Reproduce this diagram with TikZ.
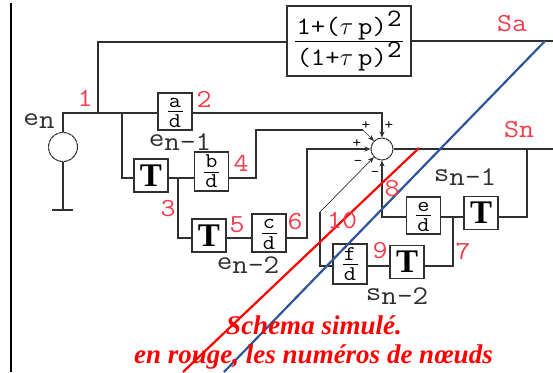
\documentclass[tikz,border=0pt]{standalone}
\usepackage{fontspec}
\usetikzlibrary{arrows.meta}
\setmonofont{Latin Modern Mono}[FakeStretch=1.12]
\newfontfamily\titlefont{Liberation Serif}
\newfontfamily\tbfont{Liberation Serif}
\newcommand\fsz[1]{\fontsize{#1}{#1}\selectfont}
\newcommand\fr[3]{\hbox to 15pt{\hfil\ttfamily\fsz{21}\vrule width 0pt height #2 depth #3#1\hfil}}
\newcommand\frbox[2]{\raisebox{1.5pt}{$\displaystyle\frac{\fr{#1}{12pt}{2pt}}{\fr{#2}{14.5pt}{0pt}}$}}
\newcommand\frtop[1]{\hbox to 108pt{\hfil\ttfamily\fsz{25}\vrule width 0pt height 20pt depth 2pt #1\hfil}}
\newcommand\mn{\textendash}
\definecolor{lab}{HTML}{F23C4C}
\definecolor{bl}{HTML}{2F5597}
\definecolor{ln}{HTML}{303030}
\begin{document}
\begin{tikzpicture}[x=1pt,y=-1pt,
  wire/.style={draw=ln,line width=1.05pt},
  arr/.style={wire,-{Stealth[length=6pt,width=5pt]}},
  thinarr/.style={draw=ln,line width=0.7pt,-{Stealth[length=6pt,width=5pt]}},
  blk/.style={draw=ln,line width=1.05pt,fill=white,inner sep=0pt,minimum width=34pt},
  delay/.style={blk,font=\tbfont\bfseries\fsz{33},minimum height=33pt},
  sumc/.style={circle,draw=ln,line width=1.05pt,dash pattern=on 4pt off 0.6pt,fill=white,inner sep=0pt,minimum size=22pt},
  tag/.style={inner sep=0pt,text=lab,font=\ttfamily\fsz{26}},
  var/.style={inner sep=0pt,text=ln,font=\ttfamily\fsz{27}},
  sign/.style={inner sep=0pt,text=black,font=\ttfamily\bfseries\fsz{15}},
  captext/.style={inner sep=0pt,text=red,font=\titlefont\bfseries\itshape\fsz{27}},
  slash/.style={line width=2.2pt}]
\useasboundingbox (0,0) rectangle (553,372);
\coordinate (bartop) at (11,3); \coordinate (barbot) at (11,372);
\draw[black,line width=2pt] (bartop) -- (barbot);

% blocks
\node[blk,minimum height=37pt] (A) at (175,111.5) {\frbox{a}{d}};
\node[blk,minimum height=39pt] (B) at (211.5,171.5) {\frbox{b}{d}};
\node[blk,minimum height=38pt] (C) at (269,233) {\frbox{c}{d}};
\node[blk,minimum height=37pt] (E) at (423.5,215.5) {\frbox{e}{d}};
\node[blk,minimum height=40pt] (F) at (350,264) {\frbox{f}{d}};
\node[delay] (T1) at (151,175.5) {T};
\node[delay] (T2) at (209,235.5) {T};
\node[delay] (T3) at (407,262) {T};
\node[delay] (T4) at (481,213) {T};
\node[blk,minimum width=124pt,minimum height=70pt] (H) at (349,41) {\raisebox{1pt}{$\displaystyle\frac{\frtop{1+($\tau$\hskip5pt p)\raisebox{8pt}{\fsz{25}2}}}{\frtop{(1+$\tau$\hskip5pt p)\raisebox{8pt}{\fsz{25}2}}}$}};
\node[sumc] (S) at (382,149) {};
\node[circle,draw=ln,line width=1.05pt,dash pattern=on 4pt off 0.6pt,fill=white,inner sep=0pt,minimum size=29pt] (G) at (63,147) {};

% junctions
\coordinate (top) at (63,113); \coordinate (j1) at (98,113); \coordinate (j2) at (122,113);
\coordinate (j3) at (178,178); \coordinate (j4) at (453,217); \coordinate (j5) at (527,149);
\coordinate (outa) at (553,41); \coordinate (outn) at (553,149);
\coordinate (gnd) at (63,210);
\coordinate (gl) at (52,210); \coordinate (gr) at (73,210);

% wires
\draw[wire] (G.north) -- (top) -- (A.west |- top);
\draw[wire] (j1) -- (98,42) -- (H.west |- 0,42);
\draw[wire] (H.east |- outa) -- (outa);
\draw[wire] (j2) |- (T1.west |- 0,178);
\draw[wire] (T1.east |- 0,178) -- (B.west |- 0,178);
\draw[wire] (j3) |- (T2.west |- 0,238);
\draw[wire] (T2.east |- 0,238) -- (C.west |- 0,238);
\draw[wire] (G.south) -- (gnd);
\draw[wire] (gl) -- (gr);
\draw[arr] (A.east |- top) -| (S.north);
\draw[wire,-] (B.east |- 0,178) -- (256,178) -- (256,130) -- (363,130);
\draw[thinarr] (363,130) -- (S.north west);
\draw[arr] (C.east |- 0,238) -- (307,238) -- (307,149) -- (S.west);
\draw[wire] (F.west |- 0,266) -- (320,266) -- (320,212);
\draw[thinarr] (320,212) -- (S.south west);
\draw[arr] (E.west |- j4) -| (S.south);
\draw[wire] (S.east) -- (outn);
\draw[wire] (j5) |- (T4.east |- j4);
\draw[wire] (T4.west |- j4) -- (E.east |- j4);
\draw[wire] (j4) |- (T3.east |- 0,266);
\draw[wire] (T3.west |- 0,266) -- (F.east |- 0,266);

% slashes
\coordinate (r1) at (419,148); \coordinate (r2) at (183,372);
\coordinate (b1) at (545,41); \coordinate (b2) at (224,372);
\draw[red,slash] (r1) -- (r2);
\draw[bl,slash] (b1) -- (b2);

% labels
\node[tag] (n1) at (85,98) {1};
\node[tag] (n2) at (204,99) {2};
\node[tag] (n3) at (168,209) {3};
\node[tag] (n4) at (241,163) {4};
\node[tag] (n5) at (237,225) {5};
\node[tag] (n6) at (295,222) {6};
\node[tag] (n7) at (463,252) {7};
\node[tag] (n8) at (392,189) {8};
\node[tag] (n9) at (380,251) {9};
\node[tag] (n10) at (342,221) {10};
\node[tag] (sa) at (512,24) {Sa};
\node[tag] (sn) at (519,130) {Sn};
\node[var] (en) at (39,121) {e\raisebox{-3pt}{n}};
\node[var] (en1) at (180,142) {e\raisebox{-4pt}{n\mn1}};
\node[var] (en2) at (248,265) {e\raisebox{-4pt}{n\mn2}};
\node[var] (sn1) at (465,177) {s\raisebox{-4pt}{n\mn1}};
\node[var] (sn2) at (397,296) {s\raisebox{-4pt}{n\mn2}};
\node[sign] (p1) at (366,126) {+};
\node[sign] (p2) at (389,126) {+};
\node[sign] (p3) at (357,144) {+};
\node[sign] (m1) at (358,163) {\mn};
\node[sign] (m2) at (375,174) {\mn};
\node[captext] (c1) at (314,325) {Schema simulé.};
\node[captext] (c2) at (313.5,357) {en rouge, les numéros de nœuds};
\end{tikzpicture}
\end{document}
